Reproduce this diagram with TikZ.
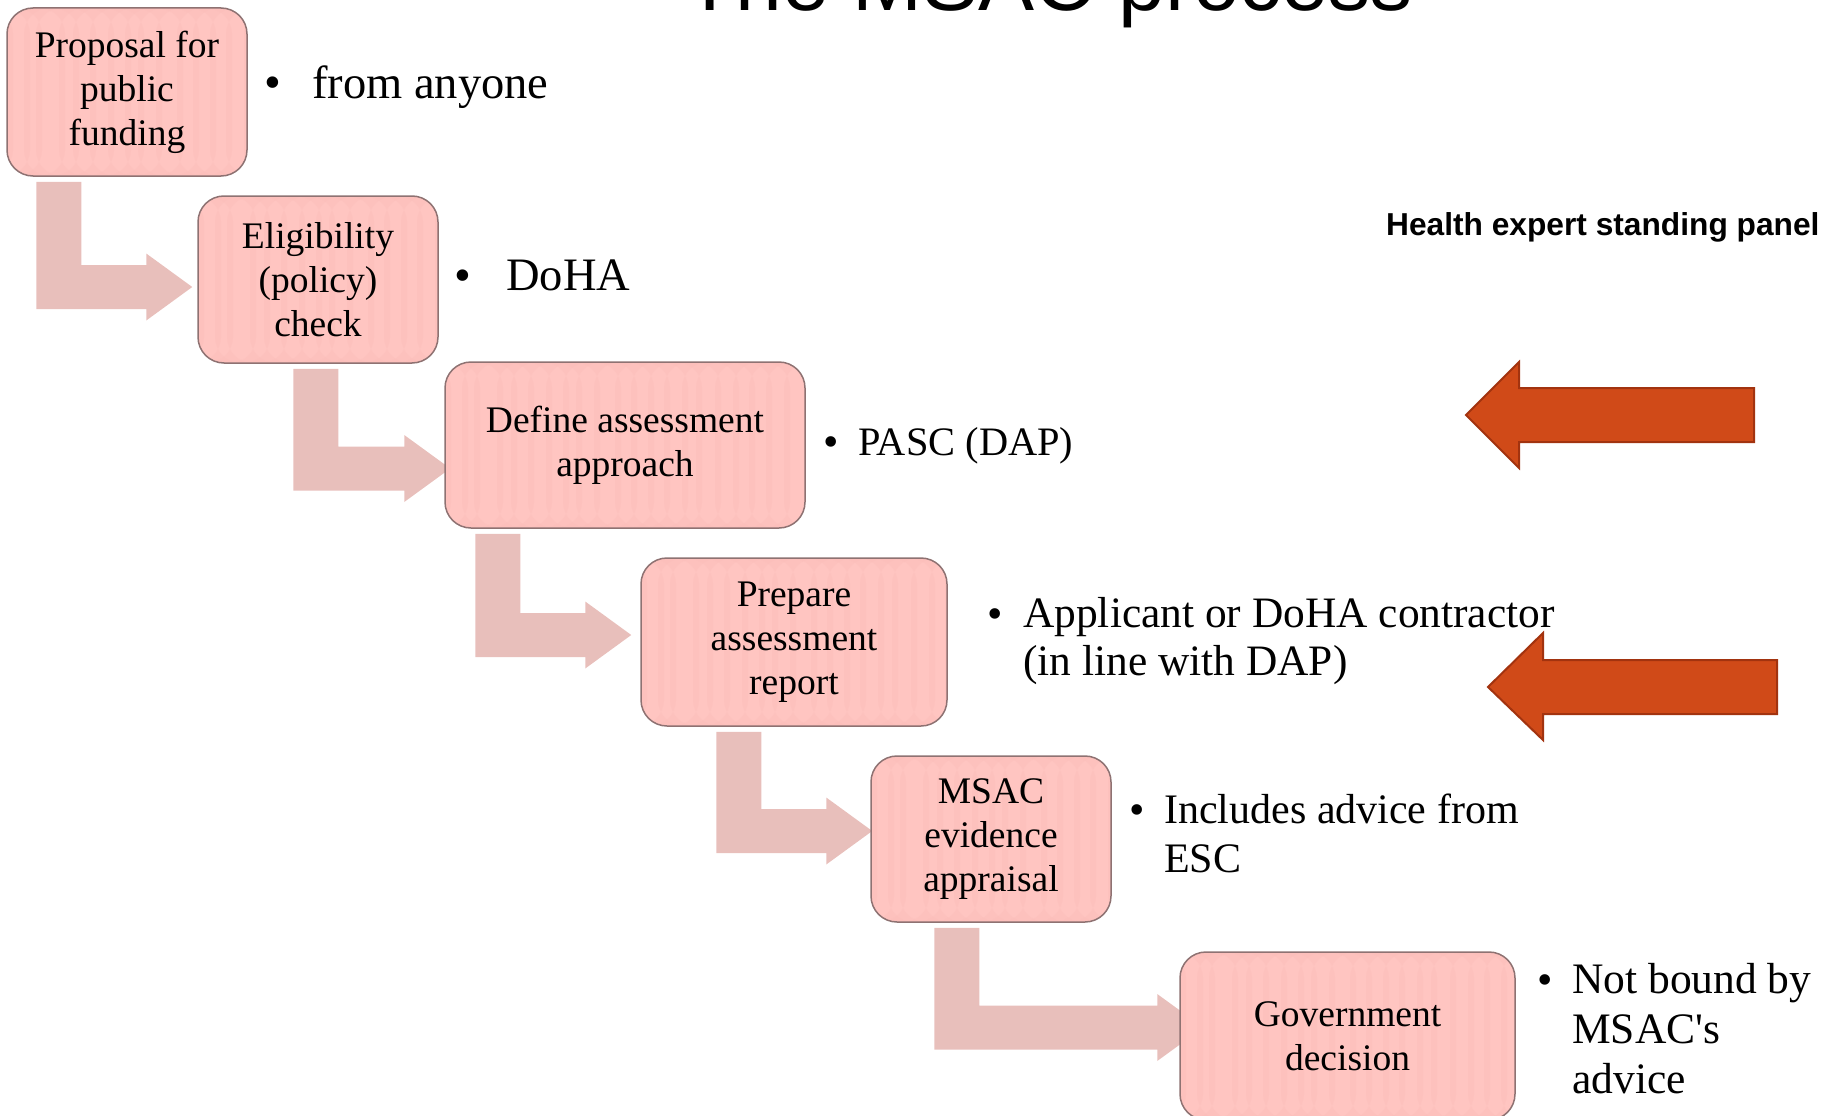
\documentclass[tikz,border=0pt]{standalone}
\usepackage{fontspec}
\setmainfont{Liberation Serif}
\newfontfamily\rawserif{Liberation Serif}[Ligatures=TeXOff]
\newfontfamily\headfont{Liberation Sans}
\usetikzlibrary{calc}
\pgfdeclarelayer{background}
\pgfsetlayers{background,main}

\definecolor{boxfill}{HTML}{FFC5C1}
\definecolor{boxstripe}{HTML}{FBBCB8}
\definecolor{boxline}{HTML}{8E7272}
\definecolor{flowfill}{HTML}{E8BFBB}
\definecolor{panelfill}{HTML}{D04A18}
\definecolor{panelline}{HTML}{A2330F}

\tikzset{
  stepbox/.style={draw=boxline, line width=1.5pt, fill=boxfill, rounded corners=26pt,
    align=center, inner sep=0pt, font=\fontsize{37.5}{44}\selectfont,
    path picture={
      \foreach \s in {0,17,29,52,66,83,101,118,131,149,170,186,203,219,237,251,270,288,304,321,339}
        \fill[boxstripe, opacity=0.35]
          ([xshift=\s pt]path picture bounding box.south west) rectangle
          ([xshift=\s pt+6pt]path picture bounding box.north west);
    }},
  flow/.style={fill=flowfill},
  panelarrow/.style={fill=panelfill, draw=panelline, line width=2pt, line join=miter},
  note/.style={anchor=base west, inner sep=0pt},
  dot/.style={anchor=base, inner sep=0pt},
}

% Bent flow arrow from the bottom of one step to the left side of the next.
% #1 from, #2 to, #3 bar offset from the left of #1,
% #4 arm centre offset (downwards) from the centre of #2, #5 head base offset from the left of #2
\newcommand{\bentflow}[5]{%
  \fill[flow] let \p1=(#1.south west), \p2=(#2.west) in
    ({\x1+(#3pt)},{\y1-5pt}) -- ({\x1+(#3pt)+45pt},{\y1-5pt})
    -- ({\x1+(#3pt)+45pt},{\y2-(#4pt)+22pt}) -- ({\x2+(#5pt)},{\y2-(#4pt)+22pt})
    -- ({\x2+(#5pt)},{\y2-(#4pt)+33.5pt}) -- ({\x2+(#5pt)+46pt},{\y2-(#4pt)})
    -- ({\x2+(#5pt)},{\y2-(#4pt)-33.5pt}) -- ({\x2+(#5pt)},{\y2-(#4pt)-22pt})
    -- ({\x1+(#3pt)},{\y2-(#4pt)-22pt}) -- cycle;}

\begin{document}
\begin{tikzpicture}[x=1pt, y=-1pt]
  \useasboundingbox (0,0) rectangle (1826,1116);
  \clip (0,0) rectangle (1826,1116);

  % title and panel label
  \node[anchor=base, inner sep=0pt, font=\headfont\fontsize{84}{90}\selectfont] (title) at (1048.5,11) {The MSAC process};
  \node[anchor=base west, inner sep=0pt, font=\headfont\bfseries\fontsize{31.7}{36}\selectfont] (panel) at (1386,235) {Health expert standing panel};

  % process steps
  \node[stepbox, minimum width=240pt, minimum height=168pt] (b1) at (127,92) {Proposal for\\public\\funding};
  \node[stepbox, minimum width=240pt, minimum height=167pt] (b2) at (318,279.5) {Eligibility\\(policy)\\check};
  \node[stepbox, minimum width=360pt, minimum height=166pt] (b3) at (625,445) {Define assessment\\approach};
  \node[stepbox, minimum width=306pt, minimum height=168pt] (b4) at (794,642) {Prepare\\assessment\\report};
  \node[stepbox, minimum width=240pt, minimum height=166pt] (b5) at (991,839) {MSAC\\evidence\\appraisal};
  \node[stepbox, minimum width=335pt, minimum height=168pt] (b6) at (1347.5,1036) {Government\\decision};

  % flow arrows between the steps
  \begin{pgfonlayer}{background}
    \bentflow{b1}{b2}{30}{7.5}{-51}
    \bentflow{b2}{b3}{96}{23.5}{-40}
    \bentflow{b3}{b4}{31}{-7}{-55}
    \bentflow{b4}{b5}{76}{-8}{-44}
    \bentflow{b5}{b6}{64}{-8.5}{-22}
  \end{pgfonlayer}

  % notes beside each step
  \node[dot, font=\fontsize{48}{52}\selectfont] (d1) at (273,99) {•};
  \node[note, font=\fontsize{46.5}{52}\selectfont] (t1) at (312,98) {from anyone};

  \node[dot, font=\fontsize{48}{52}\selectfont] (d2) at (463,291) {•};
  \node[note, font=\fontsize{46.5}{52}\selectfont] (t2) at (506,290) {DoHA};

  \node[dot, font=\fontsize{44}{48}\selectfont] (d3) at (831,456) {•};
  \node[note, font=\fontsize{40.4}{48}\selectfont] (t3) at (858,455) {PASC (DAP)};

  \node[dot, font=\fontsize{44}{48}\selectfont] (d4) at (995,628) {•};
  \node[note, font=\fontsize{43.4}{48}\selectfont] (t4) at (1023,627) {\parbox[t]{700pt}{Applicant or DoHA contractor\\(in line with DAP)}};

  \node[dot, font=\fontsize{44}{49}\selectfont] (d5) at (1137,824) {•};
  \node[note, font=\fontsize{42}{49}\selectfont] (t5) at (1164,823) {\parbox[t]{500pt}{Includes advice from\\ESC}};

  \node[dot, font=\fontsize{44}{50}\selectfont] (d6) at (1545,994) {•};
  \node[note, font=\fontsize{43.5}{50}\selectfont] (t6) at (1572,993) {\parbox[t]{300pt}{Not bound by\\MSAC{\rawserif'}s\\advice}};

  % standing panel input arrows
  \draw[panelarrow] (1466,415) -- (1519,362) -- (1519,388) -- (1754,388) -- (1754,442)
    -- (1519,442) -- (1519,468) -- cycle;
  \draw[panelarrow] (1488,687) -- (1543,633) -- (1543,660) -- (1777,660) -- (1777,714)
    -- (1543,714) -- (1543,740) -- cycle;
\end{tikzpicture}
\end{document}
